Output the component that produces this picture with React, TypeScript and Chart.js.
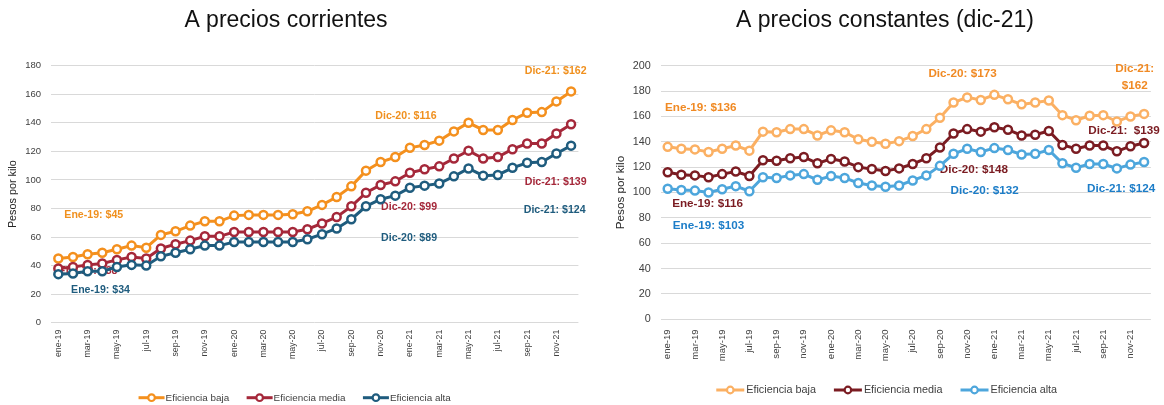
import React, { useEffect, useRef } from "react";
import { Chart, registerables } from "chart.js";
Chart.register(...registerables);
Chart.defaults.font.family = '"Liberation Sans", Arial, sans-serif';

const MONTHS = [
  "ene-19", "feb-19", "mar-19", "abr-19", "may-19", "jun-19", "jul-19", "ago-19", "sep-19", "oct-19", "nov-19", "dic-19",
  "ene-20", "feb-20", "mar-20", "abr-20", "may-20", "jun-20", "jul-20", "ago-20", "sep-20", "oct-20", "nov-20", "dic-20",
  "ene-21", "feb-21", "mar-21", "abr-21", "may-21", "jun-21", "jul-21", "ago-21", "sep-21", "oct-21", "nov-21", "dic-21",
];

const SERIES_NAMES = ["Eficiencia baja", "Eficiencia media", "Eficiencia alta"];

// A precios corrientes
const corrBaja = [45, 46, 48, 49, 51.5, 54, 52.5, 61.5, 64, 68, 71, 71, 75, 75.5, 75.5, 75.5, 76, 78, 82.5, 88, 95.5, 106.5, 112.5, 116, 122.5, 124.5, 127.5, 134, 140, 135, 135, 142, 147, 147.5, 155, 162];
const corrMedia = [38, 39, 40.5, 41.5, 44, 46, 45, 52, 55, 57.5, 60.5, 60.5, 63.5, 63.5, 63.5, 63.5, 63.5, 65.5, 69.5, 74, 81.5, 91, 96.5, 99, 105, 107.5, 109.5, 115, 120.5, 115, 116, 121.5, 125.5, 125.5, 132.5, 139];
const corrAlta = [34, 34.5, 36, 36, 39, 40.5, 40, 46.5, 49, 51.5, 54, 54, 56.5, 56.5, 56.5, 56.5, 56.5, 58.5, 62, 66, 72.5, 81.5, 86.5, 89, 94.5, 96, 97.5, 102.5, 108, 103, 103.5, 108.5, 112, 112.5, 118.5, 124];

// A precios constantes (dic-21)
const constBaja = [136, 134.5, 134, 132, 134.5, 137, 133, 148, 147.5, 150, 150, 145, 149, 147.5, 142, 140, 138.5, 140.5, 144.5, 150, 159, 171, 175, 173, 177, 173.5, 169.5, 171, 172.5, 161, 157, 160.5, 161, 156, 160, 162];
const constMedia = [116, 114, 113.5, 112, 114.5, 116.5, 113, 125.5, 125, 127, 128, 123, 126.5, 124.5, 120, 118.5, 117, 119, 122.5, 127, 135.5, 146.5, 150, 148, 151.5, 149.5, 145, 145.5, 148.5, 137.5, 134.5, 137, 137, 132.5, 136.5, 139];
const constAlta = [103, 102, 101.5, 100, 102.5, 105, 101, 112, 111.5, 113.5, 114.5, 110, 113, 111.5, 107.5, 105.5, 104.5, 105.5, 109.5, 113.5, 121, 130.5, 134.5, 132, 135, 133.5, 130, 130.5, 133.5, 123, 119.5, 122.5, 122.5, 119, 122, 124];

const Y_TICKS_CORR_MAX = 180;
const Y_TICKS_CONST_MAX = 200;

// annotation labels: text lines, series index, anchor (category index, value)
const corrLabels = [
  { text: ["Ene-19: $45"], s: 0, xi: 2.42, yv: 75.4 },
  { text: ["Ene-19: $38"], s: 1, xi: 2.03, yv: 36.4 },
  { text: ["Ene-19: $34"], s: 2, xi: 2.88, yv: 22.9 },
  { text: ["Dic-20: $116"], s: 0, xi: 23.73, yv: 144.8 },
  { text: ["Dic-20: $99"], s: 1, xi: 23.94, yv: 81 },
  { text: ["Dic-20: $89"], s: 2, xi: 23.94, yv: 59.3 },
  { text: ["Dic-21: $162"], s: 0, xi: 33.95, yv: 176.3 },
  { text: ["Dic-21: $139"], s: 1, xi: 33.95, yv: 98.5 },
  { text: ["Dic-21: $124"], s: 2, xi: 33.88, yv: 78.9 },
];
const constLabels = [
  { text: ["Ene-19: $136"], s: 0, xi: 2.43, yv: 167.2 },
  { text: ["Ene-19: $116"], s: 1, xi: 2.93, yv: 91.5 },
  { text: ["Ene-19: $103"], s: 2, xi: 3.0, yv: 73.8 },
  { text: ["Dic-20: $173"], s: 0, xi: 21.66, yv: 194 },
  { text: ["Dic-20: $148"], s: 1, xi: 22.49, yv: 118.3 },
  { text: ["Dic-20: $132"], s: 2, xi: 23.29, yv: 101.2 },
  { text: ["Dic-21:", "$162"], s: 0, xi: 34.31, yv: 197.4 },
  { text: ["Dic-21:  $139"], s: 1, xi: 33.53, yv: 148.7 },
  { text: ["Dic-21: $124"], s: 2, xi: 33.31, yv: 103.3 },
];

const LEFT = {
  title: "A precios corrientes",
  values: [corrBaja, corrMedia, corrAlta],
  colors: ["#F4901E", "#A5283A", "#1F5C7E"],
  labelColors: ["#F0901E", "#A5283A", "#1F5C7E"],
  labels: corrLabels,
  max: Y_TICKS_CORR_MAX,
  width: 595, left: 0,
  padRight: 16.6, top: 65.7, xHeight: 82.3, yWidth: 51,
  yTickPad: 10, xTickPad: 7, yTitlePad: 6.8,
  yFont: 9.5, xFont: 8.8, yTitleFont: 10.8, labelFont: 10.6,
  titleX: 286, titleY: 26.7,
  legend: { cx: 294.7, y: 397.7, lineLen: 26, gap: 1, itemGap: 17.4, font: 9.9 },
};
const RIGHT = {
  title: "A precios constantes (dic-21)",
  values: [constBaja, constMedia, constAlta],
  colors: ["#FBB063", "#7B1C22", "#4DA6DC"],
  labelColors: ["#F08A24", "#7B1C22", "#1C7DC8"],
  labels: constLabels,
  max: Y_TICKS_CONST_MAX,
  width: 564, left: 600,
  padRight: 13.1, top: 65.7, xHeight: 85.7, yWidth: 60.9,
  yTickPad: 10.2, xTickPad: 10, yTitlePad: 13.7,
  yFont: 10.8, xFont: 9.6, yTitleFont: 11.7, labelFont: 11.7,
  titleX: 285, titleY: 26.7,
  legend: { cx: 286.7, y: 390, lineLen: 28, gap: 2, itemGap: 18, font: 10.8 },
};

const FONT = '"Liberation Sans", Arial, sans-serif';

function Panel({ cfg }: { cfg: any }) {
  const ref = useRef<HTMLCanvasElement | null>(null);
  useEffect(() => {
    if (!ref.current) return;
    const titlePlugin = {
      id: "ttl",
      afterDraw(chart: any) {
        const ctx = chart.ctx;
        ctx.save();
        ctx.font = `23px ${FONT}`;
        ctx.fillStyle = "#111";
        ctx.textAlign = "center";
        ctx.textBaseline = "alphabetic";
        ctx.fillText(cfg.title, cfg.titleX, cfg.titleY);
        ctx.restore();
      },
    };
    const labelPlugin = {
      id: "lbls",
      beforeDatasetsDraw(chart: any) {
        const ctx = chart.ctx;
        const xs = chart.scales.x, ys = chart.scales.y;
        const step = xs.getPixelForValue(1) - xs.getPixelForValue(0);
        ctx.save();
        ctx.font = `bold ${cfg.labelFont}px ${FONT}`;
        ctx.textAlign = "center";
        ctx.textBaseline = "middle";
        for (const l of cfg.labels) {
          const x = xs.getPixelForValue(0) + l.xi * step;
          const y0 = ys.getPixelForValue(l.yv);
          ctx.fillStyle = cfg.labelColors[l.s];
          l.text.forEach((t: string, k: number) => ctx.fillText(t, x, y0 + k * 16.7));
        }
        ctx.restore();
      },
    };
    const legendPlugin = {
      id: "lgd",
      afterDraw(chart: any) {
        const ctx = chart.ctx;
        const L = cfg.legend;
        ctx.save();
        ctx.font = `${L.font}px ${FONT}`;
        const widths = SERIES_NAMES.map((n) => ctx.measureText(n).width);
        const total = widths.reduce((a, w) => a + L.lineLen + L.gap + w, 0) + L.itemGap * (SERIES_NAMES.length - 1);
        let x = L.cx - total / 2;
        SERIES_NAMES.forEach((n, i) => {
          const c = cfg.colors[i];
          ctx.strokeStyle = c;
          ctx.lineWidth = 3;
          ctx.beginPath();
          ctx.moveTo(x, L.y);
          ctx.lineTo(x + L.lineLen, L.y);
          ctx.stroke();
          ctx.beginPath();
          ctx.arc(x + L.lineLen / 2, L.y, 3.3, 0, Math.PI * 2);
          ctx.fillStyle = "#fff";
          ctx.fill();
          ctx.lineWidth = 2.2;
          ctx.stroke();
          ctx.fillStyle = "#404040";
          ctx.textAlign = "left";
          ctx.textBaseline = "middle";
          ctx.fillText(n, x + L.lineLen + L.gap, L.y + 0.5);
          x += L.lineLen + L.gap + widths[i] + L.itemGap;
        });
        ctx.restore();
      },
    };
    const chart = new Chart(ref.current, {
      type: "line",
      data: {
        labels: MONTHS,
        datasets: cfg.values.map((v: number[], i: number) => ({
          label: SERIES_NAMES[i],
          data: v,
          borderColor: cfg.colors[i],
          backgroundColor: cfg.colors[i],
          borderWidth: 3,
          pointRadius: 4,
          pointBorderWidth: 2.5,
          pointBackgroundColor: "#ffffff",
          pointBorderColor: cfg.colors[i],
          tension: 0,
          order: 2 - i,
        })),
      },
      options: {
        responsive: false,
        animation: false,
        layout: { padding: { left: 0, right: cfg.padRight, top: cfg.top, bottom: 0 } },
        plugins: { legend: { display: false }, title: { display: false }, tooltip: { enabled: false } },
        scales: {
          x: {
            offset: true,
            grid: { display: false, drawTicks: false },
            border: { display: false },
            ticks: {
              autoSkip: false,
              minRotation: 90,
              maxRotation: 90,
              padding: cfg.xTickPad,
              color: "#404040",
              font: { size: cfg.xFont },
              callback: (_v: any, i: number) => (i % 2 === 0 ? MONTHS[i] : ""),
            },
            afterFit: (s: any) => {
              s.height = cfg.xHeight;
              s.paddingLeft = 0;
              s.paddingRight = 0;
            },
          },
          y: {
            min: 0,
            max: cfg.max,
            grid: { color: "#d9d9d9", drawTicks: false, lineWidth: 1 },
            border: { display: false },
            ticks: { stepSize: 20, padding: cfg.yTickPad, color: "#404040", font: { size: cfg.yFont } },
            title: {
              display: true,
              text: "Pesos por kilo",
              color: "#262626",
              font: { size: cfg.yTitleFont },
              padding: { top: cfg.yTitlePad, bottom: 0 },
            },
            afterFit: (s: any) => {
              s.width = cfg.yWidth;
              s.paddingTop = 0;
              s.paddingBottom = 0;
            },
          },
        },
      },
      plugins: [labelPlugin, titlePlugin, legendPlugin],
    } as any);
    return () => chart.destroy();
  }, [cfg]);
  return (
    <div style={{ position: "absolute", left: cfg.left, top: 0, width: cfg.width, height: 405 }}>
      <canvas ref={ref} width={cfg.width} height={405} style={{ display: "block" }} />
    </div>
  );
}

export default function App() {
  return (
    <div style={{ position: "fixed", left: 0, top: 0, width: 1164, height: 405, background: "#fff" }}>
      <Panel cfg={LEFT} />
      <Panel cfg={RIGHT} />
    </div>
  );
}
